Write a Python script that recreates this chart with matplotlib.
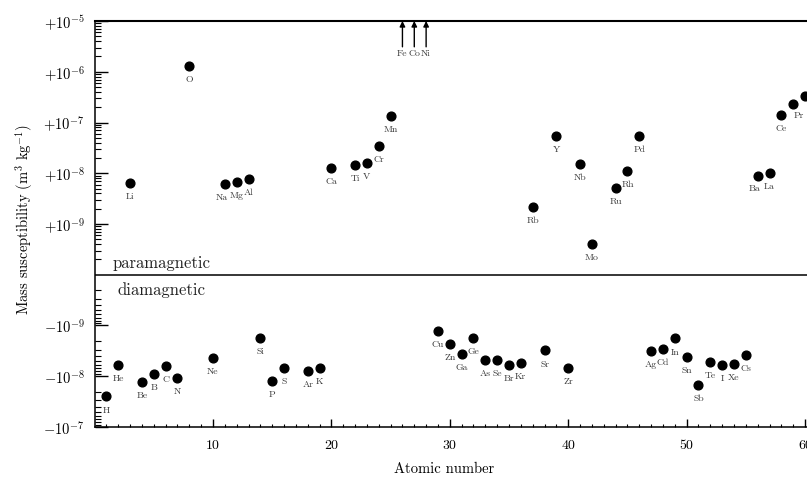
import numpy as np
import matplotlib.pyplot as plt
from matplotlib.ticker import FixedLocator, FixedFormatter, NullFormatter

plt.rcParams['font.family'] = ['cmr10', 'DejaVu Serif']
plt.rcParams['mathtext.fontset'] = 'cm'
plt.rcParams['axes.unicode_minus'] = False

# paramagnetic elements (positive mass susceptibility, m^3 kg^-1)
para_names = ['Li', 'O', 'Na', 'Mg', 'Al', 'Ca', 'Ti', 'V', 'Cr', 'Mn',
              'Rb', 'Y', 'Nb', 'Mo', 'Ru', 'Rh', 'Pd', 'Ba', 'La', 'Ce', 'Pr', 'Nd']
para_z = [3, 8, 11, 12, 13, 20, 22, 23, 24, 25,
          37, 39, 41, 42, 44, 45, 46, 56, 57, 58, 59, 60]
para_chi = [6.4e-9, 1.3e-6, 6.2e-9, 6.6e-9, 7.6e-9, 1.26e-8, 1.45e-8, 1.58e-8, 3.5e-8, 1.32e-7,
            2.2e-9, 5.5e-8, 1.55e-8, 4.1e-10, 5.1e-9, 1.12e-8, 5.5e-8, 8.7e-9, 1.0e-8,
            1.43e-7, 2.36e-7, 3.3e-7]

# diamagnetic elements (negative mass susceptibility)
dia_names = ['H', 'He', 'Be', 'B', 'C', 'N', 'Ne', 'Si', 'P', 'S', 'Ar', 'K',
             'Cu', 'Zn', 'Ga', 'Ge', 'As', 'Se', 'Br', 'Kr', 'Sr', 'Zr',
             'Ag', 'Cd', 'In', 'Sn', 'Sb', 'Te', 'I', 'Xe', 'Cs']
dia_z = [1, 2, 4, 5, 6, 7, 10, 14, 15, 16, 18, 19,
         29, 30, 31, 32, 33, 34, 35, 36, 38, 40,
         47, 48, 49, 50, 51, 52, 53, 54, 55]
dia_chi = [-2.5e-8, -6.0e-9, -1.3e-8, -9.1e-9, -6.4e-9, -1.07e-8, -4.4e-9, -1.76e-9,
           -1.23e-8, -6.9e-9, -7.9e-9, -6.8e-9,
           -1.26e-9, -2.3e-9, -3.6e-9, -1.78e-9, -4.7e-9, -4.8e-9, -6.0e-9, -5.4e-9,
           -3.1e-9, -7.0e-9,
           -3.2e-9, -2.9e-9, -1.8e-9, -4.2e-9, -1.48e-8, -5.2e-9, -6.1e-9, -5.8e-9, -3.8e-9]

# ferromagnets: far off the top of the scale
ferro_names = ['Fe', 'Co', 'Ni']
ferro_z = [26, 27, 28]

ytick_vals = [1e-5, 1e-6, 1e-7, 1e-8, 1e-9, -1e-9, -1e-8, -1e-7]
ytick_labels = [r'$+10^{-5}$', r'$+10^{-6}$', r'$+10^{-7}$', r'$+10^{-8}$', r'$+10^{-9}$',
                r'$-10^{-9}$', r'$-10^{-8}$', r'$-10^{-7}$']

# a few labels sit off to the side of their dot
label_offsets = {'Na': (-2, -10), 'Pr': (4, -9), 'Nd': (8, -7), 'Ba': (-2, -9)}


def fwd(x):
    # signed log: +1e-10 and -1e-10 both land on 0
    x = np.asarray(x, dtype=float)
    with np.errstate(divide='ignore', invalid='ignore'):
        return np.sign(x) * (np.log10(np.abs(x)) + 10)


def inv(y):
    y = np.asarray(y, dtype=float)
    return np.sign(y) * 10.0 ** (np.abs(y) - 10)


fig = plt.figure(figsize=(8.07, 4.84), dpi=100)
ax = fig.add_axes([0.1172, 0.1178, 0.9097, 0.8388])
ax.set_yscale('function', functions=(fwd, inv))
ax.set_xlim(0, 62)
ax.set_ylim(-1e-7, 1e-5)

# y ticks: decades with log minor ticks on both sides of the split
minor = []
for n in range(-10, -5):
    minor += [k * 10.0 ** n for k in range(2, 10)]
for n in range(-10, -7):
    minor += [-k * 10.0 ** n for k in range(2, 10)]
ax.yaxis.set_major_locator(FixedLocator(ytick_vals))
ax.yaxis.set_major_formatter(FixedFormatter(ytick_labels))
ax.yaxis.set_minor_locator(FixedLocator(minor))
ax.yaxis.set_minor_formatter(NullFormatter())

ax.xaxis.set_major_locator(FixedLocator([10, 20, 30, 40, 50, 60]))
ax.xaxis.set_minor_locator(FixedLocator(list(range(1, 62))))

ax.tick_params(axis='y', which='major', direction='in', length=9, width=1, pad=7,
               labelsize=10.5, right=False)
ax.tick_params(axis='y', which='minor', direction='in', length=4.5, width=0.8, right=False)
ax.tick_params(axis='x', which='major', direction='in', length=6, width=1, pad=9,
               labelsize=10, top=False)
ax.tick_params(axis='x', which='minor', direction='in', length=2.5, width=0.8, top=False)

for side in ['left', 'bottom']:
    ax.spines[side].set_linewidth(1.1)
ax.spines['top'].set_linewidth(1.5)

# zero line between the two halves
ax.axhline(1e-10, color='k', lw=1.1)
ax.annotate('paramagnetic', xy=(1.5, 1e-10), xytext=(0, 8), textcoords='offset points',
            ha='left', va='center', fontsize=12, color='#222222')
ax.annotate('diamagnetic', xy=(1.9, 1e-10), xytext=(0, -11), textcoords='offset points',
            ha='left', va='center', fontsize=12, color='#222222')

ax.plot(para_z, para_chi, 'o', color='k', ms=6.3)
ax.plot(dia_z, dia_chi, 'o', color='k', ms=6.3)

for names, zs, chis in [(para_names, para_z, para_chi), (dia_names, dia_z, dia_chi)]:
    for name, z, c in zip(names, zs, chis):
        off = label_offsets.get(name, (0, -10))
        ax.annotate(name, xy=(z, c), xytext=off, textcoords='offset points',
                    ha='center', va='center', fontsize=7, color='#3a3a3a')

for name, z in zip(ferro_names, ferro_z):
    ax.annotate('', xy=(z, 1e-5), xytext=(z, 3.1e-6),
                arrowprops=dict(arrowstyle='-|>', color='k', lw=1, mutation_scale=8,
                                shrinkA=0, shrinkB=0))
    ax.annotate(name, xy=(z, 3.1e-6), xytext=(0, -5), textcoords='offset points',
                ha='center', va='center', fontsize=7, color='#3a3a3a')

ax.set_ylabel(r'Mass susceptibility (m$^3$ kg$^{-1}$)', fontsize=10.5)
ax.yaxis.set_label_coords(-0.081, 0.51)
ax.set_xlabel('Atomic number', fontsize=10.5)
ax.xaxis.set_label_coords(29.5, -0.088, transform=ax.get_xaxis_transform())

fig.savefig('out.png', dpi=100)
